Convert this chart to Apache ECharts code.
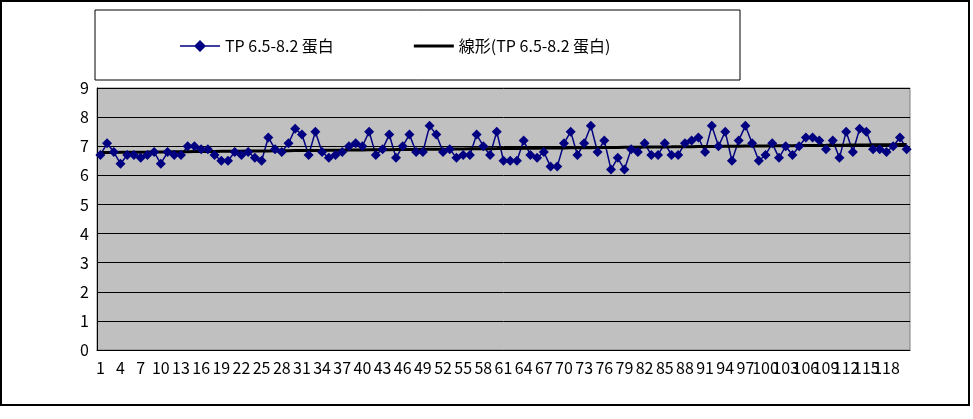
<!DOCTYPE html><html><head><meta charset="utf-8"><script src="https://cdn.jsdelivr.net/npm/echarts@6/dist/echarts.min.js"></script></head><body style="margin:0;background:#fff"><div id="c" style="width:973px;height:419px"></div><script>
const values=[6.7,7.1,6.8,6.4,6.7,6.7,6.6,6.7,6.8,6.4,6.8,6.7,6.7,7.0,7.0,6.9,6.9,6.7,6.5,6.5,6.8,6.7,6.8,6.6,6.5,7.3,6.9,6.8,7.1,7.6,7.4,6.7,7.5,6.8,6.6,6.7,6.8,7.0,7.1,7.0,7.5,6.7,6.9,7.4,6.6,7.0,7.4,6.8,6.8,7.7,7.4,6.8,6.9,6.6,6.7,6.7,7.4,7.0,6.7,7.5,6.5,6.5,6.5,7.2,6.7,6.6,6.8,6.3,6.3,7.1,7.5,6.7,7.1,7.7,6.8,7.2,6.2,6.6,6.2,6.9,6.8,7.1,6.7,6.7,7.1,6.7,6.7,7.1,7.2,7.3,6.8,7.7,7.0,7.5,6.5,7.2,7.7,7.1,6.5,6.7,7.1,6.6,7.0,6.7,7.0,7.3,7.3,7.2,6.9,7.2,6.6,7.5,6.8,7.6,7.5,6.9,6.9,6.8,7.0,7.3,6.9];
const categories=values.map((v,i)=>String(i+1));
const seriesName='TP 6.5-8.2 蛋白';
const trendName='線形(TP 6.5-8.2 蛋白)';
const n=values.length;let sx=0,sy=0,sxy=0,sxx=0;values.forEach((v,i)=>{sx+=i;sy+=v;sxy+=i*v;sxx+=i*i;});
const b=(n*sxy-sx*sy)/(n*sxx-sx*sx),a=(sy-b*sx)/n;
const trend=values.map((v,i)=>+(a+b*i).toFixed(3));
const f='"MS PGothic","Noto Sans CJK JP",sans-serif';
const ch=echarts.init(document.getElementById('c'));
ch.setOption({animation:false,
graphic:[{type:'rect',shape:{x:1,y:1,width:968,height:404},style:{fill:'none',stroke:'#000',lineWidth:2}},
{type:'rect',shape:{x:95,y:10,width:645,height:70},style:{fill:'#fff',stroke:'#000',lineWidth:1}}],
legend:{top:33,left:175,itemGap:80,itemWidth:40,itemHeight:12,textStyle:{fontFamily:f,fontSize:16,color:'#000'},data:[{name:seriesName,icon:'path://M0,5.2L40,5.2L40,6.8L0,6.8Z M20,0L26,6L20,12L14,6Z'},{name:trendName,icon:'path://M0,4.5L40,4.5L40,7.5L0,7.5Z'}]},
grid:{left:97,top:88,right:63,bottom:69,show:true,backgroundColor:'#c0c0c0',borderColor:'#808080',borderWidth:1},
xAxis:{type:'category',data:categories,boundaryGap:true,axisLine:{lineStyle:{color:'#000'}},axisTick:{show:false},axisLabel:{interval:2,fontFamily:f,fontSize:16,color:'#000',margin:10},splitLine:{show:false}},
yAxis:{type:'value',min:0,max:9,interval:1,axisLine:{show:true,lineStyle:{color:'#000'}},axisTick:{show:false},axisLabel:{fontFamily:f,fontSize:16,color:'#000'},splitLine:{lineStyle:{color:'#000',width:1}}},
series:[{name:seriesName,type:'line',data:values,symbol:'diamond',symbolSize:10,showAllSymbol:true,itemStyle:{color:'#000080'},lineStyle:{color:'#000080',width:1.5}},
{name:trendName,type:'line',data:trend,symbol:'none',itemStyle:{color:'#000'},lineStyle:{color:'#000',width:3},z:3}]});
</script></body></html>
